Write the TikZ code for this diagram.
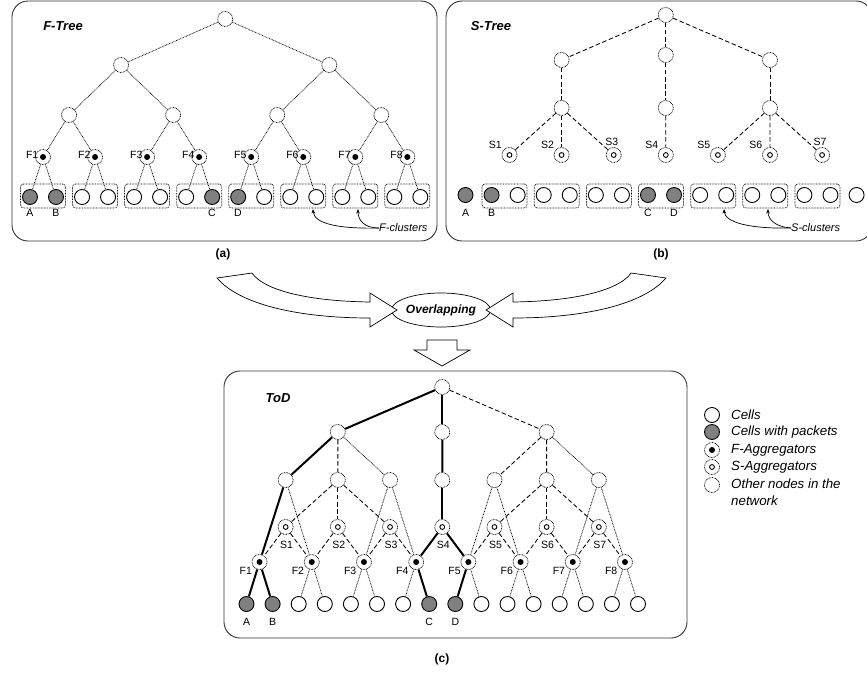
\documentclass[tikz,border=0pt]{standalone}
\usepackage{fontspec}
\setmainfont{Liberation Sans}
\usetikzlibrary{shapes.geometric,arrows.meta,calc}
\tikzset{
 dotline/.style={line width=0.75pt, dash pattern=on 0.75pt off 0.8pt},
 dashline/.style={line width=0.85pt, dash pattern=on 4.5pt off 2.6pt},
 thickline/.style={line width=2pt},
 onode/.style={circle, draw, dotline, fill=white, minimum size=15pt, inner sep=0pt},
 fagg/.style={onode, path picture={\fill[black] (path picture bounding box.center) circle (3pt);}},
 sagg/.style={onode, path picture={\draw[line width=0.9pt, solid] (path picture bounding box.center) circle (2.4pt);}},
 cell/.style={circle, draw, solid, line width=0.9pt, fill=white, minimum size=15pt, inner sep=0pt},
 pcell/.style={cell, fill=gray},
 panel/.style={draw=black!80, line width=0.9pt, rounded corners=16pt},
 clusterbox/.style={draw, dotline, rounded corners=3pt, minimum width=45pt, minimum height=24pt, inner sep=0pt},
 lbl/.style={font=\fontsize{10.5}{12}\selectfont, inner sep=0pt},
 ilbl/.style={font=\fontsize{11}{13}\selectfont\itshape, inner sep=0pt},
 ttl/.style={font=\fontsize{13}{15}\selectfont\bfseries\itshape, inner sep=0pt},
 captxt/.style={font=\fontsize{12}{14}\selectfont\bfseries, inner sep=0pt},
 leg/.style={font=\fontsize{13.3}{16.5}\selectfont\itshape, inner sep=0pt, anchor=west, align=left},
 blockarrow/.style={draw, line width=0.7pt, fill=white, line join=miter},
 ptr/.style={-{Stealth[length=4.5pt,width=3.5pt]}, line width=0.7pt},
}
\begin{document}
\begin{tikzpicture}[x=1pt,y=-1pt]
\useasboundingbox (0,0) rectangle (867,672);
\fill[white] (0,0) rectangle (867,672);

% ---------- panels ----------
\draw[panel] (12,1) rectangle (437,241);
\draw[panel] (446,1) rectangle (872,241);
\draw[panel] (224,371) rectangle (687,638);

% ================= (a) F-Tree =================
\node[ttl] (ta) at (63,26) {F-Tree};
\foreach \k/\sl/\sr in {1/pcell/pcell,2/cell/cell,3/cell/cell,4/cell/pcell,5/pcell/cell,6/cell/cell,7/cell/cell,8/cell/cell}{
  \pgfmathsetmacro\fx{43+52.05*(\k-1)}
  \node[clusterbox] (aB\k) at (\fx,196) {};
  \node[fagg] (aF\k) at (\fx,157) {};
  \node[\sl] (aL\k) at ({\fx-13},197) {};
  \node[\sr] (aR\k) at ({\fx+13},197) {};
  \node[lbl, anchor=base east] (aFl\k) at ({\fx-4.5},158) {F\k};
  \draw[dotline] (aF\k) -- (aL\k);
  \draw[dotline] (aF\k) -- (aR\k);
}
\foreach \j in {1,...,4}{
  \pgfmathsetmacro\mx{43+52.05*(2*\j-1.5)}
  \node[onode] (aM\j) at (\mx,115) {};
}
\node[onode] (aN1) at (121.08,65) {};
\node[onode] (aN2) at (329.28,65) {};
\node[onode] (aTop) at (225.18,19) {};
\draw[dotline] (aTop) -- (aN1);
\draw[dotline] (aTop) -- (aN2);
\draw[dotline] (aN1) -- (aM1);
\draw[dotline] (aN1) -- (aM2);
\draw[dotline] (aN2) -- (aM3);
\draw[dotline] (aN2) -- (aM4);
\foreach \j/\p/\q in {1/1/2,2/3/4,3/5/6,4/7/8}{
  \draw[dotline] (aM\j) -- (aF\p);
  \draw[dotline] (aM\j) -- (aF\q);
}
\node[lbl] (aA) at (30,213) {A};
\node[lbl] (aBl) at (56,213) {B};
\node[lbl] (aC) at (212,213) {C};
\node[lbl] (aD) at (238,213) {D};
\node[ilbl, anchor=west] (fcl) at (379,228) {F-clusters};
\coordinate (ft1) at (313,209);
\coordinate (ft2) at (358,209);
\draw[ptr] (fcl.west) .. controls (340,229) and (314,224) .. (ft1);
\draw[ptr] (fcl.west) .. controls (364,228) and (358,220) .. (ft2);
\node[captxt] (capa) at (223,254) {(a)};

% ================= (b) S-Tree =================
\node[ttl] (tb) at (491,26) {S-Tree};
\foreach \j in {1,...,7}{
  \pgfmathsetmacro\bx{465.5+26.07*(2*\j-0.5)}
  \node[clusterbox] (bB\j) at (\bx,196) {};
}
\foreach \i/\st in {0/pcell,1/pcell,2/cell,3/cell,4/cell,5/cell,6/cell,7/pcell,8/pcell,9/cell,10/cell,11/cell,12/cell,13/cell,14/cell,15/cell}{
  \pgfmathsetmacro\lx{465.5+26.07*\i}
  \node[\st] (bX\i) at (\lx,195) {};
}
\foreach \k in {1,...,7}{
  \pgfmathsetmacro\sx{509.5+52.1*(\k-1)}
  \node[sagg] (bS\k) at (\sx,155) {};
}
\foreach \k in {1,2,4,5,6}{
  \node[lbl, anchor=base east] (bSl\k) at ($(bS\k)+(-7.5,-6.5)$) {S\k};
}
\foreach \k in {3,7}{
  \node[lbl, anchor=base] (bSl\k) at ($(bS\k)+(-2,-10)$) {S\k};
}
\node[onode] (bM1) at (561.6,108) {};
\node[onode] (bM2) at (665.8,108) {};
\node[onode] (bM3) at (770,108) {};
\node[onode] (bN1) at (561.6,60) {};
\node[onode] (bN2) at (665.8,55) {};
\node[onode] (bN3) at (770,60) {};
\node[onode] (bTop) at (665.8,15) {};
\draw[dashline] (bTop) -- (bN1);
\draw[dashline] (bTop) -- (bN2);
\draw[dashline] (bTop) -- (bN3);
\draw[dashline] (bN1) -- (bM1);
\draw[dashline] (bN2) -- (bM2);
\draw[dashline] (bN3) -- (bM3);
\draw[dashline] (bM1) -- (bS1);
\draw[dashline] (bM1) -- (bS2);
\draw[dashline] (bM1) -- (bS3);
\draw[dashline] (bM2) -- (bS4);
\draw[dashline] (bM3) -- (bS5);
\draw[dashline] (bM3) -- (bS6);
\draw[dashline] (bM3) -- (bS7);
\node[lbl] (bA) at (465.5,213) {A};
\node[lbl] (bBl) at (491.6,213) {B};
\node[lbl] (bC) at (648,213) {C};
\node[lbl] (bD) at (674,213) {D};
\node[ilbl, anchor=west] (scl) at (791,228) {S-clusters};
\coordinate (st1) at (724,209);
\coordinate (st2) at (768,209);
\draw[ptr] (scl.west) .. controls (748,229) and (725,222) .. (st1);
\draw[ptr] (scl.west) .. controls (776,227) and (768,220) .. (st2);
\node[captxt] (capb) at (661,254) {(b)};

% ================= middle arrows =================
\node[ellipse, draw, line width=0.7pt, minimum width=88pt, minimum height=34pt, inner sep=0pt,
      font=\fontsize{12}{14}\selectfont\bfseries\itshape] (ov) at (441,310) {Overlapping};
\draw[blockarrow] (217,278) -- (252,273) .. controls (262,288) and (300,301) .. (370,302)
   -- (370,293) -- (397,310) -- (370,327) -- (370,318)
   .. controls (300,318) and (240,305) .. (217,278) -- cycle;
\draw[blockarrow] (666,278) -- (631,273) .. controls (621,288) and (583,301) .. (513,302)
   -- (513,293) -- (486,310) -- (513,327) -- (513,318)
   .. controls (583,318) and (643,305) .. (666,278) -- cycle;
\draw[blockarrow] (427,340) -- (457,340) -- (457,350) -- (470,350) -- (442,366)
   -- (414,350) -- (427,350) -- cycle;

% ================= (c) ToD =================
\node[ttl] (tc) at (278,398) {ToD};
\foreach \i/\st in {0/pcell,1/pcell,2/cell,3/cell,4/cell,5/cell,6/cell,7/pcell,8/pcell,9/cell,10/cell,11/cell,12/cell,13/cell,14/cell,15/cell}{
  \pgfmathsetmacro\lx{246.5+26.1*\i}
  \node[\st] (cX\i) at (\lx,604) {};
}
\foreach \k in {1,...,8}{
  \pgfmathsetmacro\fx{259.55+52.2*(\k-1)}
  \node[fagg] (cF\k) at (\fx,562) {};
  \node[lbl, anchor=base east] (cFl\k) at ({\fx-7.5},574) {F\k};
}
\foreach \k in {1,...,7}{
  \pgfmathsetmacro\sx{285.65+52.2*(\k-1)}
  \node[sagg] (cS\k) at (\sx,527) {};
  \node[onode] (cM\k) at (\sx,480) {};
  \node[lbl, anchor=base] (cSl\k) at ({\sx+1},548) {S\k};
}
\node[onode] (cN1) at (337.85,432) {};
\node[onode] (cN2) at (442.25,432) {};
\node[onode] (cN3) at (546.65,432) {};
\node[onode] (cTop) at (442.25,387) {};
% F to leaves
\foreach \k/\sl/\sr in {1/thickline/thickline,2/dotline/dotline,3/dotline/dotline,4/dotline/thickline,5/thickline/dotline,6/dotline/dotline,7/dotline/dotline,8/dotline/dotline}{
  \pgfmathtruncatemacro\il{2*\k-2}
  \pgfmathtruncatemacro\ir{2*\k-1}
  \draw[\sl] (cF\k) -- (cX\il);
  \draw[\sr] (cF\k) -- (cX\ir);
}
% S to F (dashed)
\foreach \k in {1,2,3,5,6,7}{
  \pgfmathtruncatemacro\kn{\k+1}
  \draw[dashline] (cS\k) -- (cF\k);
  \draw[dashline] (cS\k) -- (cF\kn);
}
\draw[thickline] (cS4) -- (cF4);
\draw[thickline] (cS4) -- (cF5);
% level 2 to lower levels
\draw[thickline] (cM1) -- (cF1);
\draw[dotline] (cM1) -- (cF2);
\draw[dashline] (cM2) -- (cS1);
\draw[dashline] (cM2) -- (cS2);
\draw[dashline] (cM2) -- (cS3);
\draw[dotline] (cM3) -- (cF3);
\draw[dotline] (cM3) -- (cF4);
\draw[thickline] (cM4) -- (cS4);
\draw[dotline] (cM5) -- (cF5);
\draw[dotline] (cM5) -- (cF6);
\draw[dashline] (cM6) -- (cS5);
\draw[dashline] (cM6) -- (cS6);
\draw[dashline] (cM6) -- (cS7);
\draw[dotline] (cM7) -- (cF7);
\draw[dotline] (cM7) -- (cF8);
% level 1 to level 2
\draw[thickline] (cN1) -- (cM1);
\draw[dashline] (cN1) -- (cM2);
\draw[dotline] (cN1) -- (cM3);
\draw[thickline] (cN2) -- (cM4);
\draw[dashline] (cN3) -- (cM5);
\draw[dashline] (cN3) -- (cM6);
\draw[dotline] (cN3) -- (cM7);
% root
\draw[thickline] (cTop) -- (cN1);
\draw[thickline] (cTop) -- (cN2);
\draw[dashline] (cTop) -- (cN3);
\node[lbl] (cA) at (246.5,622) {A};
\node[lbl] (cB) at (272.6,622) {B};
\node[lbl] (cC) at (429.2,622) {C};
\node[lbl] (cD) at (455.3,622) {D};
\node[captxt] (capc) at (442,659) {(c)};

% ================= legend =================
\node[cell] (lg1) at (712,415) {};
\node[pcell] (lg2) at (712,432) {};
\node[fagg] (lg3) at (712,450) {};
\node[sagg] (lg4) at (712,467) {};
\node[onode] (lg5) at (712,485) {};
\node[leg] (lt1) at (731,415) {Cells};
\node[leg] (lt2) at (731,432) {Cells with packets};
\node[leg] (lt3) at (731,450) {F-Aggregators};
\node[leg] (lt4) at (731,467) {S-Aggregators};
\node[leg] (lt5) at (731,492) {Other nodes in the\\network};
\end{tikzpicture}
\end{document}
